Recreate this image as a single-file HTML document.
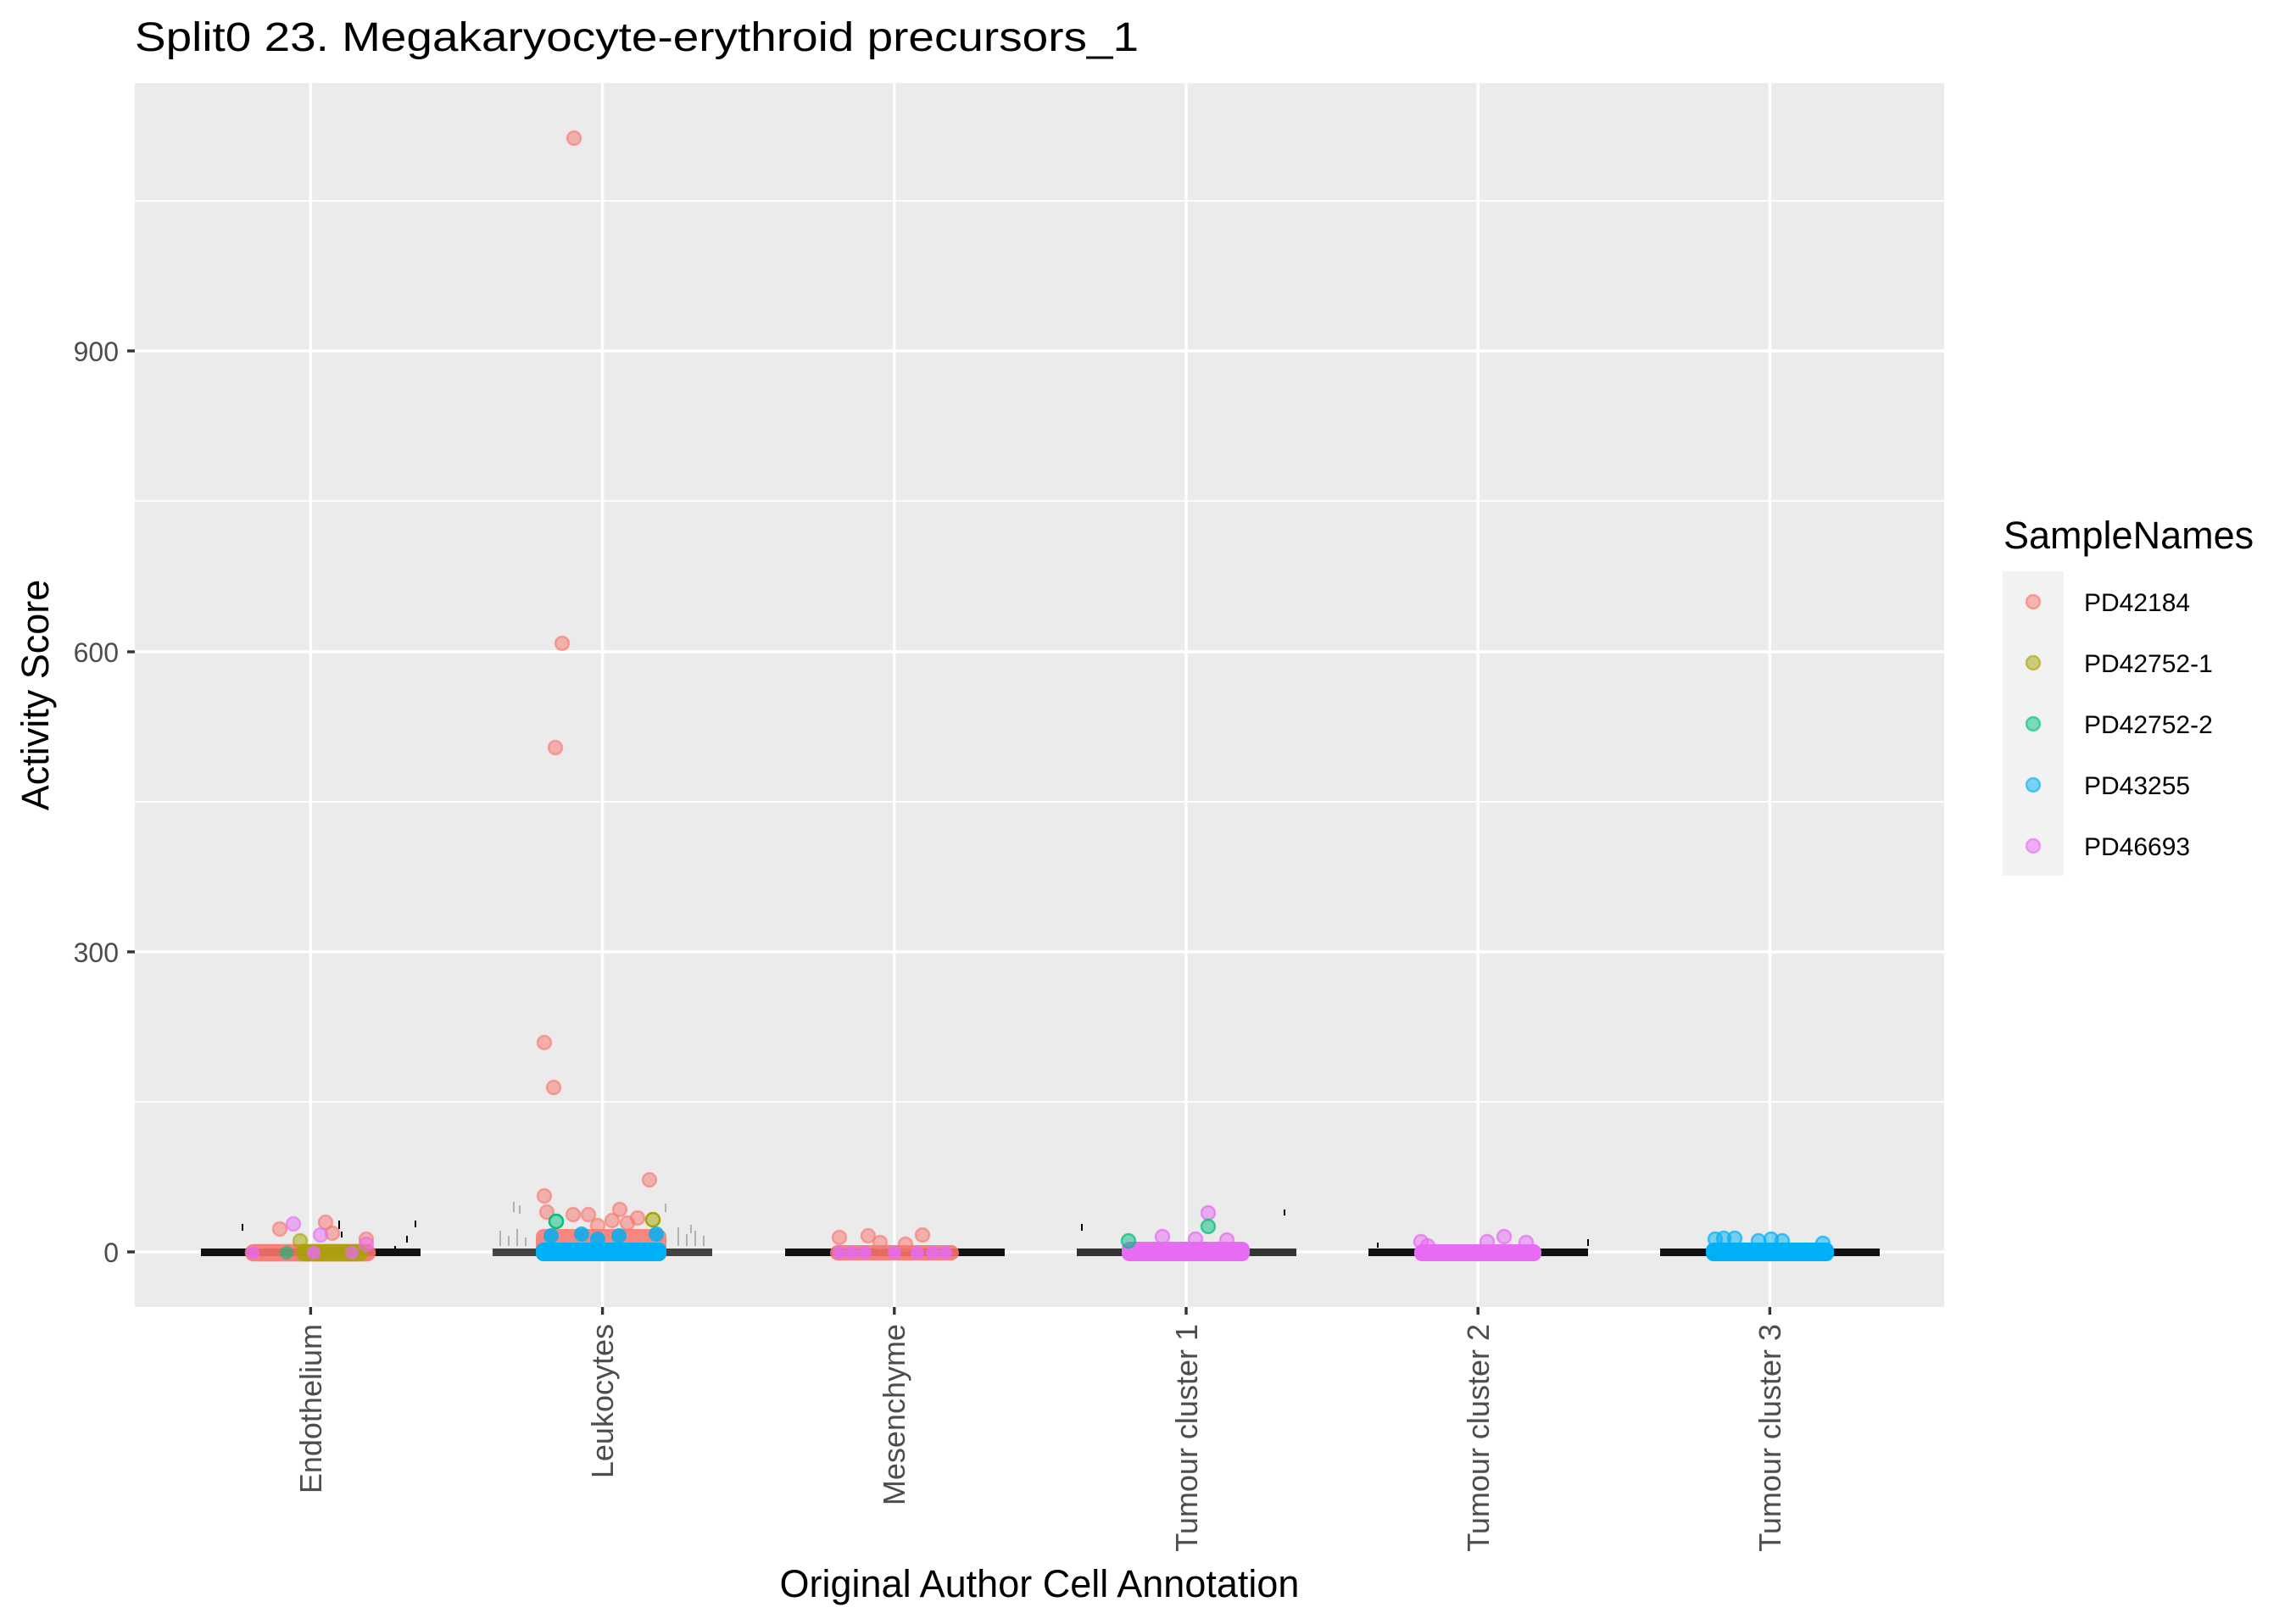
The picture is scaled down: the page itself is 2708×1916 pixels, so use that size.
<!DOCTYPE html>
<html><head><meta charset="utf-8"><style>
html,body{margin:0;padding:0;background:#fff;}
svg{display:block;font-family:"Liberation Sans",Arial,sans-serif;}
</style></head><body>
<svg width="2708" height="1916" viewBox="0 0 2708 1916" xmlns="http://www.w3.org/2000/svg">
<rect width="2708" height="1916" fill="#fff"/>
<text x="159" y="60" font-size="48" fill="#000" textLength="1184" lengthAdjust="spacingAndGlyphs">Split0 23. Megakaryocyte-erythroid precursors_1</text>
<rect x="159" y="98" width="2134" height="1444" fill="#EBEBEB"/>
<g stroke="#fff" stroke-width="1.7">
<line x1="159" x2="2293" y1="1300" y2="1300"/><line x1="159" x2="2293" y1="946" y2="946"/>
<line x1="159" x2="2293" y1="591" y2="591"/><line x1="159" x2="2293" y1="237" y2="237"/>
</g>
<g stroke="#fff" stroke-width="3.4">
<line x1="159" x2="2293" y1="1477" y2="1477"/><line x1="159" x2="2293" y1="1123" y2="1123"/>
<line x1="159" x2="2293" y1="769" y2="769"/><line x1="159" x2="2293" y1="414" y2="414"/>
<line y1="98" y2="1542" x1="366.4" x2="366.4"/><line y1="98" y2="1542" x1="710.6" x2="710.6"/>
<line y1="98" y2="1542" x1="1054.8" x2="1054.8"/><line y1="98" y2="1542" x1="1399" x2="1399"/>
<line y1="98" y2="1542" x1="1743.2" x2="1743.2"/><line y1="98" y2="1542" x1="2087.4" x2="2087.4"/>
</g>
<g fill="#111">
<rect x="237" y="1473" width="259" height="9"/>
<rect x="581" y="1473" width="259" height="9" fill="#444"/>
<rect x="926" y="1473" width="259" height="9"/>
<rect x="1270" y="1473" width="259" height="9" fill="#333"/>
<rect x="1614" y="1473" width="259" height="9"/>
<rect x="1958" y="1473" width="259" height="9"/>
</g>
<g stroke="#000" stroke-width="2">
<line x1="286" x2="286" y1="1444" y2="1452"/><line x1="400" x2="400" y1="1440" y2="1450"/><line x1="403" x2="403" y1="1453" y2="1460"/>
<line x1="490" x2="490" y1="1440" y2="1448"/><line x1="480" x2="480" y1="1458" y2="1466"/><line x1="466" x2="466" y1="1470" y2="1474"/>
<line x1="1515" x2="1515" y1="1427" y2="1434"/><line x1="1276" x2="1276" y1="1444" y2="1452"/>
<line x1="1873" x2="1873" y1="1462" y2="1470"/><line x1="1625" x2="1625" y1="1466" y2="1472"/>
</g>
<g stroke="#777" stroke-width="1">
<path d="M590 1470v-18M600 1470v-12M610 1470v-20M620 1470v-10M800 1470v-22M810 1470v-14M820 1470v-18M830 1470v-12M606 1430v-12M613 1432v-10M785 1430v-10M815 1455v-10"/>
</g>
<g stroke-width="2.5">
<rect x="290" y="1469" width="152" height="18" rx="9" fill="#F8766D" stroke="#F8766D" opacity="0.9"/>
<rect x="350" y="1469" width="83" height="18" rx="9" fill="#A3A500" stroke="#A3A500" opacity="0.85"/>
<g fill-opacity="0.5" stroke-opacity="0.6">
<circle cx="330" cy="1450" r="8" fill="#F8766D" stroke="#F8766D"/><circle cx="384" cy="1442" r="8" fill="#F8766D" stroke="#F8766D"/>
<circle cx="392" cy="1455" r="8" fill="#F8766D" stroke="#F8766D"/><circle cx="432" cy="1462" r="8" fill="#F8766D" stroke="#F8766D"/>
<circle cx="346" cy="1444" r="8" fill="#E76BF3" stroke="#E76BF3"/><circle cx="378" cy="1457" r="8" fill="#E76BF3" stroke="#E76BF3"/>
<circle cx="354" cy="1464" r="8" fill="#A3A500" stroke="#A3A500"/><circle cx="432" cy="1468" r="8" fill="#E76BF3" stroke="#E76BF3"/>
</g>
<circle cx="298" cy="1478" r="8" fill="#E76BF3" opacity="0.8"/><circle cx="338" cy="1478" r="8" fill="#00BF7D" opacity="0.6"/>
<circle cx="370" cy="1478" r="8" fill="#E76BF3" opacity="0.8"/><circle cx="415" cy="1478" r="8" fill="#E76BF3" opacity="0.7"/>
</g>
<rect x="632" y="1450" width="154" height="38" rx="9" fill="#F8766D" opacity="0.85"/>
<g fill="#F8766D" fill-opacity="0.5" stroke="#F8766D" stroke-opacity="0.6" stroke-width="2.5">
<circle cx="677" cy="163" r="8"/><circle cx="663" cy="759" r="8"/><circle cx="655" cy="882" r="8"/>
<circle cx="642" cy="1230" r="8"/><circle cx="653" cy="1283" r="8"/><circle cx="766" cy="1392" r="8"/>
<circle cx="642" cy="1411" r="8"/><circle cx="645" cy="1430" r="8"/><circle cx="676" cy="1433" r="8"/>
<circle cx="694" cy="1433" r="8"/><circle cx="731" cy="1427" r="8"/><circle cx="752" cy="1437" r="8"/>
<circle cx="722" cy="1440" r="8"/><circle cx="740" cy="1443" r="8"/><circle cx="705" cy="1446" r="8"/>
</g>
<circle cx="656" cy="1441" r="8" fill="#00BF7D" fill-opacity="0.5" stroke="#00BF7D" stroke-width="2.5"/>
<circle cx="770" cy="1439" r="8" fill="#A3A500" fill-opacity="0.5" stroke="#A3A500" stroke-width="2.5"/>
<rect x="632" y="1466" width="154" height="22" rx="9" fill="#00B0F6"/>
<g fill="#00B0F6" opacity="0.85"><circle cx="650" cy="1458" r="9"/><circle cx="686" cy="1456" r="9"/><circle cx="730" cy="1458" r="9"/><circle cx="774" cy="1456" r="9"/><circle cx="705" cy="1462" r="9"/></g>
<rect x="979" y="1469" width="152" height="18" rx="9" fill="#F8766D" opacity="0.9"/>
<g fill="#F8766D" fill-opacity="0.5" stroke="#F8766D" stroke-opacity="0.6" stroke-width="2.5">
<circle cx="990" cy="1460" r="8"/><circle cx="1024" cy="1458" r="8"/><circle cx="1088" cy="1457" r="8"/><circle cx="1038" cy="1466" r="8"/><circle cx="1068" cy="1468" r="8"/>
</g>
<g fill="#E76BF3" opacity="0.85"><circle cx="990" cy="1478" r="8"/><circle cx="1005" cy="1478" r="8"/><circle cx="1020" cy="1478" r="8"/><circle cx="1055" cy="1478" r="8"/><circle cx="1082" cy="1478" r="8"/><circle cx="1100" cy="1478" r="8"/><circle cx="1115" cy="1478" r="8"/></g>
<rect x="1323" y="1465" width="151" height="23" rx="9" fill="#E76BF3"/>
<g fill-opacity="0.5" stroke-opacity="0.7" stroke-width="2.5">
<circle cx="1425" cy="1431" r="8" fill="#E76BF3" stroke="#E76BF3"/><circle cx="1425" cy="1447" r="8" fill="#00BF7D" stroke="#00BF7D"/>
<circle cx="1331" cy="1464" r="8" fill="#00BF7D" stroke="#00BF7D"/><circle cx="1371" cy="1459" r="8" fill="#E76BF3" stroke="#E76BF3"/>
<circle cx="1410" cy="1462" r="8" fill="#E76BF3" stroke="#E76BF3"/><circle cx="1447" cy="1463" r="8" fill="#E76BF3" stroke="#E76BF3"/>
</g>
<rect x="1668" y="1468" width="150" height="20" rx="9" fill="#E76BF3"/>
<g fill="#E76BF3" fill-opacity="0.5" stroke="#E76BF3" stroke-opacity="0.7" stroke-width="2.5">
<circle cx="1676" cy="1465" r="8"/><circle cx="1774" cy="1459" r="8"/><circle cx="1754" cy="1465" r="8"/><circle cx="1800" cy="1466" r="8"/><circle cx="1684" cy="1470" r="8"/>
</g>
<rect x="2012" y="1466" width="151" height="22" rx="9" fill="#00B0F6"/>
<g fill="#00B0F6" fill-opacity="0.5" stroke="#00B0F6" stroke-opacity="0.7" stroke-width="2.5">
<circle cx="2023" cy="1462" r="8"/><circle cx="2033" cy="1461" r="8"/><circle cx="2046" cy="1461" r="8"/><circle cx="2074" cy="1464" r="8"/><circle cx="2089" cy="1462" r="8"/><circle cx="2102" cy="1464" r="8"/><circle cx="2150" cy="1467" r="8"/>
</g>
<g stroke="#333" stroke-width="3.4">
<line x1="150" x2="159" y1="1477" y2="1477"/><line x1="150" x2="159" y1="1123" y2="1123"/>
<line x1="150" x2="159" y1="769" y2="769"/><line x1="150" x2="159" y1="414" y2="414"/>
<line y1="1542" y2="1551" x1="366.4" x2="366.4"/><line y1="1542" y2="1551" x1="710.6" x2="710.6"/>
<line y1="1542" y2="1551" x1="1054.8" x2="1054.8"/><line y1="1542" y2="1551" x1="1399" x2="1399"/>
<line y1="1542" y2="1551" x1="1743.2" x2="1743.2"/><line y1="1542" y2="1551" x1="2087.4" x2="2087.4"/>
</g>
<g font-size="32" fill="#4D4D4D" text-anchor="end">
<text x="140" y="1489">0</text><text x="140" y="1135">300</text><text x="140" y="781">600</text><text x="140" y="426">900</text>
</g>
<g font-size="36" fill="#4D4D4D" text-anchor="end">
<text transform="translate(379,1562) rotate(-90)">Endothelium</text>
<text transform="translate(723,1562) rotate(-90)">Leukocytes</text>
<text transform="translate(1067,1562) rotate(-90)">Mesenchyme</text>
<text transform="translate(1412,1562) rotate(-90)">Tumour cluster 1</text>
<text transform="translate(1756,1562) rotate(-90)">Tumour cluster 2</text>
<text transform="translate(2100,1562) rotate(-90)">Tumour cluster 3</text>
</g>
<text x="1226" y="1884" font-size="45" text-anchor="middle">Original Author Cell Annotation</text>
<text transform="translate(57,820) rotate(-90)" font-size="45" text-anchor="middle">Activity Score</text>
<text x="2363" y="647" font-size="45">SampleNames</text>
<rect x="2362" y="674" width="72" height="359" fill="#F2F2F2"/>
<g stroke-width="2.5" fill-opacity="0.5" stroke-opacity="0.6">
<circle cx="2398" cy="710" r="8" fill="#F8766D" stroke="#F8766D"/>
<circle cx="2398" cy="782" r="8" fill="#A3A500" stroke="#A3A500"/>
<circle cx="2398" cy="854" r="8" fill="#00BF7D" stroke="#00BF7D"/>
<circle cx="2398" cy="926" r="8" fill="#00B0F6" stroke="#00B0F6"/>
<circle cx="2398" cy="998" r="8" fill="#E76BF3" stroke="#E76BF3"/>
</g>
<g font-size="30">
<text x="2458" y="721">PD42184</text><text x="2458" y="793">PD42752-1</text><text x="2458" y="865">PD42752-2</text>
<text x="2458" y="937">PD43255</text><text x="2458" y="1009">PD46693</text>
</g>
</svg>
</body></html>
